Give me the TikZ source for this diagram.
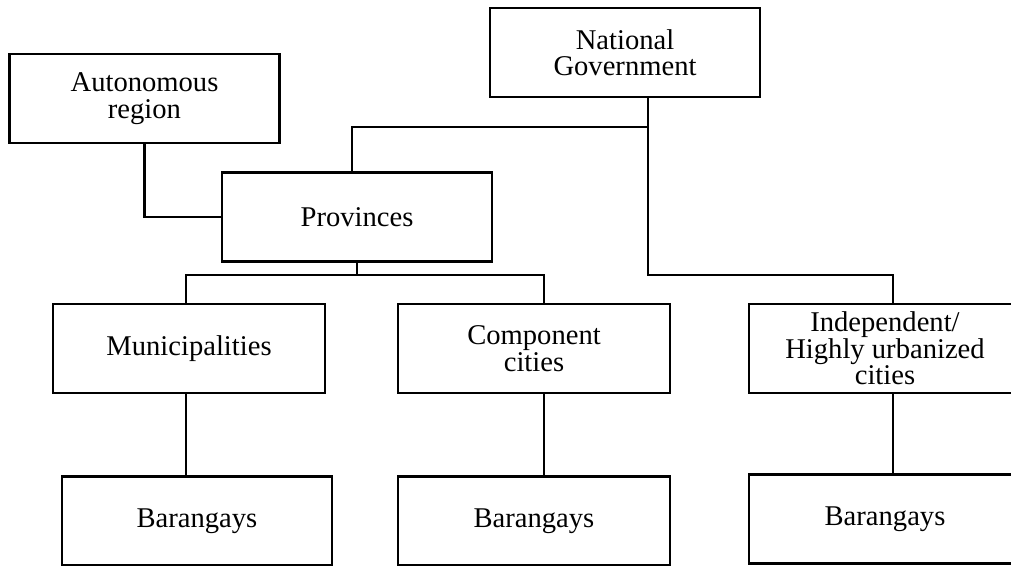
\documentclass[tikz,border=0pt]{standalone}
\usepackage{fontspec}
\setmainfont{Liberation Serif}
\usepackage{tikz}
\usetikzlibrary{calc}

\tikzset{
    unitbox/.style={draw, line width=1.4pt, minimum width=135pt, minimum height=44.5pt,
        inner sep=0pt, align=center, font=\fontsize{14.3}{13.2}\selectfont},
    link/.style={line width=1.4pt}
}

\begin{document}
\begin{tikzpicture}[x=0.5pt, y=-0.5pt]
    % Canvas
    \path[fill=white] (0,0) rectangle (1011,566);
    \useasboundingbox (0,0) rectangle (1011,566);
    \clip (0,0) rectangle (1011,566);

    % Top level
    \node[unitbox] (nat) at (625,52.5) {National\\Government};
    \node[unitbox] (auto) at (144.5,98.5) {Autonomous\\region};
    \node[unitbox] (prov) at (357,217) {Provinces};

    % Local government units
    \node[unitbox, minimum width=136pt] (muni) at (189,348.5) {Municipalities};
    \node[unitbox, minimum width=136pt] (comp) at (534,348.5) {Component\\cities};
    \node[unitbox, minimum width=136pt] (indep) at (885,348.5) {Independent/\\Highly urbanized\\cities};

    % Barangays
    \node[unitbox] (bar1) at (197,521) {Barangays};
    \node[unitbox, minimum width=136pt] (bar2) at (534,521) {Barangays};
    \node[unitbox, minimum width=136pt] (bar3) at (885,519) {Barangays};

    % Junction points
    \coordinate (natj) at (648,127);
    \coordinate (provx) at (352,127);
    \coordinate (natdrop) at (648,275);
    \coordinate (indx) at (893,275);
    \coordinate (pj) at (357,275);
    \coordinate (mx) at (186,275);
    \coordinate (cx) at (544,275);

    % National government links
    \draw[link] (nat.south -| natdrop) -- (natdrop) -| (indep.north -| indx);
    \draw[link] (natj) -- (provx) -- (prov.north -| provx);
    \draw[link] (auto.south) |- (prov.west);

    % Province links
    \draw[link] (prov.south -| pj) -- (pj);
    \draw[link] (muni.north -| mx) |- (cx) -- (comp.north -| cx);

    % Barangay links
    \draw[link] (muni.south -| mx) -- (bar1.north -| mx);
    \draw[link] (comp.south -| cx) -- (bar2.north -| cx);
    \draw[link] (indep.south -| indx) -- (bar3.north -| indx);
\end{tikzpicture}
\end{document}
